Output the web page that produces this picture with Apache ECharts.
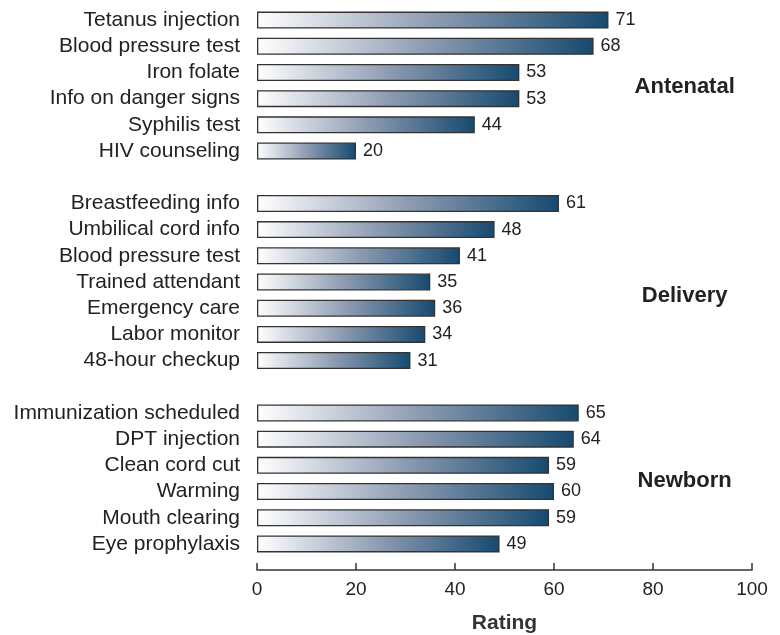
<!DOCTYPE html>
<html>
<head>
<meta charset="utf-8">
<script src="https://cdn.jsdelivr.net/npm/echarts@6/dist/echarts.min.js"></script>
<style>
html,body{margin:0;padding:0;background:#fff;}
#chart{width:780px;height:635px;}
</style>
</head>
<body>
<div id="chart"></div>
<script>
const antenatalLabels = ['Tetanus injection','Blood pressure test','Iron folate','Info on danger signs','Syphilis test','HIV counseling'];
const antenatalValues = [71, 68, 53, 53, 44, 20];
const deliveryLabels = ['Breastfeeding info','Umbilical cord info','Blood pressure test','Trained attendant','Emergency care','Labor monitor','48-hour checkup'];
const deliveryValues = [61, 48, 41, 35, 36, 34, 31];
const newbornLabels = ['Immunization scheduled','DPT injection','Clean cord cut','Warming','Mouth clearing','Eye prophylaxis'];
const newbornValues = [65, 64, 59, 60, 59, 49];
const groupNames = ['Antenatal', 'Delivery', 'Newborn'];
const xTicks = [0, 20, 40, 60, 80, 100];

// unique category keys (group prefix), displayed without the prefix
const categories = [].concat(
  antenatalLabels.map(function (s) { return 'A|' + s; }), ['gap1|'],
  deliveryLabels.map(function (s) { return 'D|' + s; }), ['gap2|'],
  newbornLabels.map(function (s) { return 'N|' + s; })
);
const values = [].concat(antenatalValues, [null], deliveryValues, [null], newbornValues);

const font = '"Liberation Sans", Arial, Helvetica, sans-serif';
const chart = echarts.init(document.getElementById('chart'));

const barGradient = new echarts.graphic.LinearGradient(0, 0, 1, 0, [
  {offset: 0, color: '#ffffff'},
  {offset: 0.5, color: '#8e9cb2'},
  {offset: 1, color: '#164a70'}
]);

// group label anchor positions (category index)
const groupIdx = [2.55, 10.55, 17.6];

chart.setOption({
  animation: false,
  textStyle: {fontFamily: font},
  grid: {left: 257, right: 28, top: 7, bottom: 78, containLabel: false, outerBoundsMode: 'none'},
  xAxis: {
    type: 'value',
    min: xTicks[0], max: xTicks[xTicks.length - 1], interval: 20,
    offset: 13,
    splitLine: {show: false},
    axisLine: {show: true, lineStyle: {color: '#333', width: 1.5}},
    axisTick: {show: true, inside: true, length: 7, lineStyle: {color: '#333', width: 1.5}},
    axisLabel: {fontSize: 19, color: '#222', margin: 10, fontFamily: font},
    name: 'Rating',
    nameLocation: 'middle',
    nameGap: 43,
    nameTextStyle: {fontSize: 21, fontWeight: 'bold', color: '#333', fontFamily: font}
  },
  yAxis: {
    type: 'category',
    inverse: true,
    data: categories,
    axisLine: {show: false},
    axisTick: {show: false},
    axisLabel: {
      interval: 0, fontSize: 21, color: '#222', margin: 17, fontFamily: font,
      formatter: function (v) { return v.split('|')[1]; }
    }
  },
  series: [{
    type: 'bar',
    data: values,
    barWidth: 17,
    itemStyle: {color: barGradient, borderColor: '#333', borderWidth: 1.3},
    label: {show: true, position: 'right', distance: 7, fontSize: 18, color: '#222', fontFamily: font}
  }]
});

const gx = chart.convertToPixel({xAxisIndex: 0}, 86.4);
const graphics = groupNames.map(function (name, i) {
  const y0 = chart.convertToPixel({yAxisIndex: 0}, Math.floor(groupIdx[i]));
  const y1 = chart.convertToPixel({yAxisIndex: 0}, Math.floor(groupIdx[i]) + 1);
  const f = groupIdx[i] - Math.floor(groupIdx[i]);
  return {
    type: 'text', x: gx, y: y0 + (y1 - y0) * f,
    style: {text: name, fill: '#222', font: 'bold 22px ' + font, textAlign: 'center', textVerticalAlign: 'middle'}
  };
});
chart.setOption({graphic: graphics});
</script>
</body>
</html>
